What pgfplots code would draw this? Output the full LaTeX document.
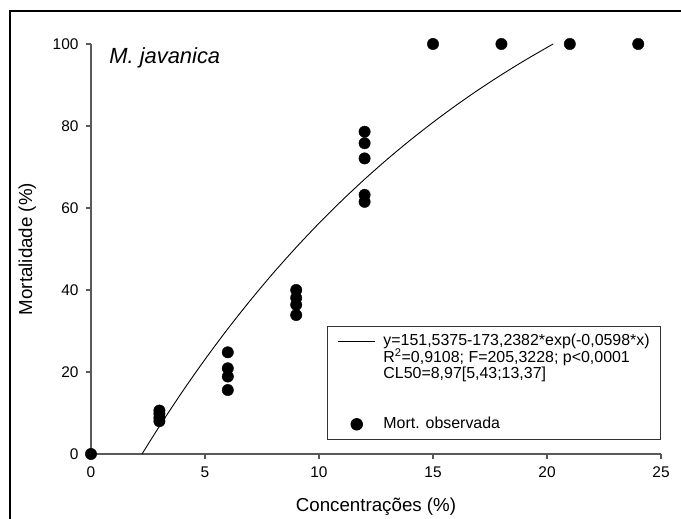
\documentclass[border=0pt]{standalone}
\usepackage{pgfplots}
\pgfplotsset{compat=1.18}
\usepackage{fontspec}
\setmainfont{Liberation Sans}
\begin{document}
\begin{tikzpicture}
\useasboundingbox (0bp,0bp) rectangle (681bp,519bp);
\draw[line width=2bp,black] (9.5bp,0bp) -- (9.5bp,508bp) -- (681bp,508bp);
\begin{axis}[
  at={(91bp,65bp)}, anchor=south west,
  width=570bp, height=410bp, scale only axis,
  xmin=0, xmax=25, ymin=0, ymax=100,
  axis x line*=bottom, axis y line*=left,
  axis line style={line width=1.2bp, black!65},
  xtick={0,5,...,25}, ytick={0,20,...,100},
  tick align=outside, major tick length=5bp,
  tick style={line width=1.2bp, black!65},
  /pgf/number format/assume math mode=true,
  ticklabel style={font=\fontsize{15.5}{18}\selectfont},
  xticklabel style={yshift=-4bp},
  yticklabel style={xshift=-4bp},
  xlabel={Concentrações (\%)},
  ylabel={Mortalidade (\%)},
  label style={font=\fontsize{18.8}{22}\selectfont},
  xlabel style={at={(axis description cs:0.5,-0.129)}, anchor=center},
  ylabel style={at={(axis description cs:-0.112,0.5)}, anchor=center, rotate=0},
  clip=false,
  legend cell align=left,
  legend style={at={(1,0.034)}, anchor=south east, draw=black!80, line width=1bp,
    font=\fontsize{16}{17}\selectfont, inner xsep=10bp, inner ysep=7bp,
    row sep=0bp, column sep=7.5bp,
    nodes={text height=11.5bp, text depth=3.5bp, inner sep=0.75bp}},
]
\addplot[black, line width=0.9bp, smooth, mark=none,
  legend image code/.code={\draw[black,line width=0.9bp] (0bp,0bp) -- (37bp,0bp);}]
  coordinates {
  (2.238,0) (3,6.75) (4,15.15) (5,23.07) (6,30.53) (7,37.55) (8,44.17)
  (9,50.40) (10,56.27) (11,61.80) (12,67.01) (13,71.92) (14,76.54)
  (15,80.89) (16,84.99) (17,88.86) (18,92.49) (19,95.92) (20,99.15) (20.27,100)
};
\addlegendentry{y=151,5375-173,2382*exp(-0,0598*x)}
\addlegendimage{empty legend}
\addlegendentry{R\textsuperscript{2}=0,9108; F=205,3228; p<0,0001}
\addlegendimage{empty legend}
\addlegendentry{CL50=8,97[5,43;13,37]}
\addlegendimage{empty legend}
\addlegendentry{\mbox{}}
\addlegendimage{empty legend}
\addlegendentry{\mbox{}}
\addplot[only marks, mark=*, mark size=5.7bp, black,
  legend image code/.code={\draw[black,fill=black] (19bp,0bp) circle (5.7bp);}]
  coordinates {
  (0,0)
  (3,8.0) (3,8.8) (3,9.8) (3,10.6)
  (6,15.6) (6,18.9) (6,20.9) (6,24.8)
  (9,33.9) (9,36.4) (9,38.1) (9,40.0)
  (12,61.5) (12,63.2) (12,72.1) (12,75.8) (12,78.6)
  (15,100) (18,100) (21,100) (24,100)
};
\addlegendentry{Mort. observada}
\node[anchor=west, font=\fontsize{22}{26}\selectfont\itshape] at (rel axis cs:0.026,0.966) {M. javanica};
\end{axis}
\end{tikzpicture}
\end{document}
